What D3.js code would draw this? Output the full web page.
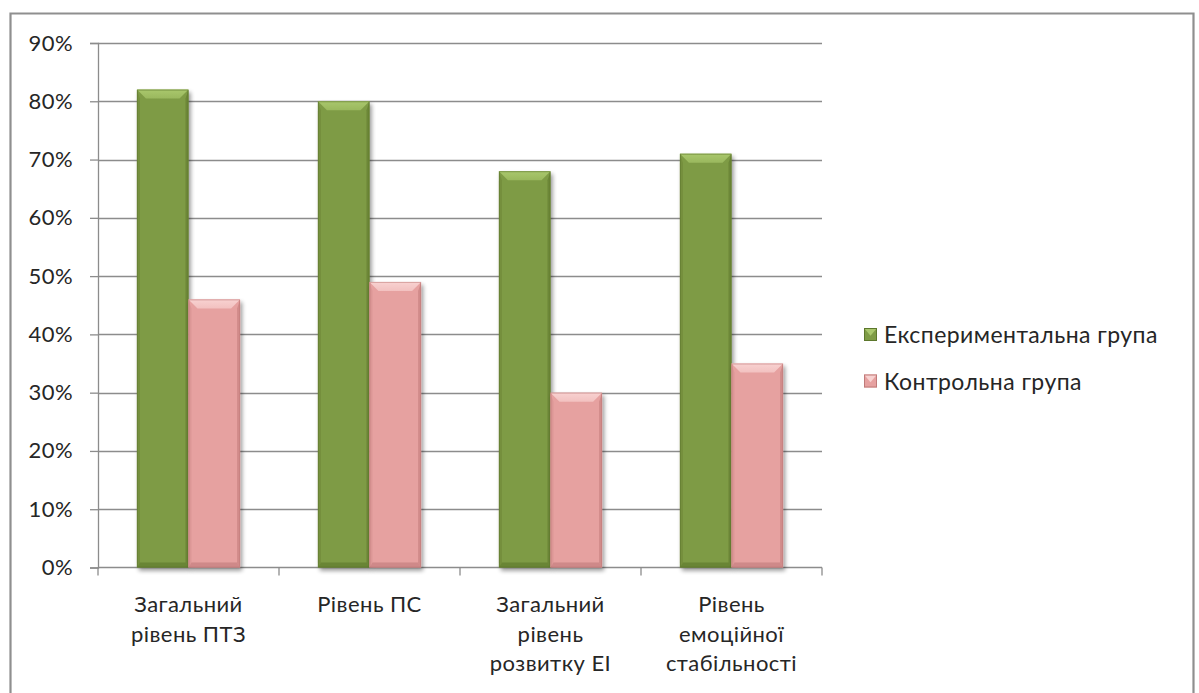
<!DOCTYPE html>
<html>
<head>
<meta charset="utf-8">
<script src="https://cdn.jsdelivr.net/npm/d3@7"></script>
<style>
  html, body { margin: 0; padding: 0; background: #fff; }
  svg { display: block; font-family: Lato, "Open Sans", sans-serif; }
  text { letter-spacing: 0.45px; }
</style>
</head>
<body>
<svg id="chart" width="1199" height="693"></svg>
<script>
// Categories (multi-line labels) and series values, in percent
const categories = [
  ["Загальний", "рівень ПТЗ"],
  ["Рівень ПС"],
  ["Загальний", "рівень", "розвитку ЕІ"],
  ["Рівень", "емоційної", "стабільності"]
];
const seriesNames = ["Експериментальна група", "Контрольна група"];
const experimental = [82, 80, 68, 71];
const control = [46, 49, 30, 35];
const yTicks = [0, 10, 20, 30, 40, 50, 60, 70, 80, 90];

const palette = [
  { base: "#7e9b45", light: "#a9c76c", dark: "#5c772c", edge: "#758f3e" },
  { base: "#e6a1a0", light: "#f8d2d1", dark: "#bf7a79", edge: "#dc9796" }
];
const textColor = "#262626";
const fontSize = 22;

const svg = d3.select("#chart");

// outer frame
svg.append("path")
  .attr("d", "M10.5,700 V13.5 H1193.5 V700")
  .attr("fill", "none")
  .attr("stroke", "#8f8f8f")
  .attr("stroke-width", 2.2);

const plot = { left: 98, right: 822, top: 43, bottom: 567.5 };

const y = d3.scaleLinear().domain([0, 90]).range([plot.bottom, plot.top]);
const x0 = d3.scaleBand().domain(d3.range(categories.length))
  .range([plot.left, plot.right]).paddingInner(0).paddingOuter(0);
const inner = x0.bandwidth();
const groupPad = 0.215;
const x1 = d3.scaleBand().domain([0, 1])
  .range([inner * groupPad, inner * (1 - groupPad)]).padding(0);

// drop shadow and shading gradients for bars
const defs = svg.append("defs");
const f = defs.append("filter").attr("id", "shadow")
  .attr("x", "-20%").attr("y", "-10%").attr("width", "150%").attr("height", "130%");
f.append("feGaussianBlur").attr("in", "SourceAlpha").attr("stdDeviation", 2.2).attr("result", "b");
f.append("feOffset").attr("in", "b").attr("dx", 2).attr("dy", 3).attr("result", "o");
f.append("feComponentTransfer").attr("in", "o").attr("result", "s")
  .append("feFuncA").attr("type", "linear").attr("slope", 0.4);
const fm = f.append("feMerge");
fm.append("feMergeNode").attr("in", "s");
fm.append("feMergeNode").attr("in", "SourceGraphic");

palette.forEach((c, k) => {
  const g = defs.append("linearGradient").attr("id", "top" + k)
    .attr("x1", 0).attr("y1", 0).attr("x2", 0).attr("y2", 1);
  g.append("stop").attr("offset", 0).attr("stop-color", c.light);
  g.append("stop").attr("offset", 1).attr("stop-color", d3.interpolateRgb(c.light, c.base)(0.35));
});

// gridlines and y ticks
const yAxis = d3.axisLeft(y).tickValues(yTicks).tickSize(8)
  .tickFormat(d => d + "%").tickPadding(17);
const yg = svg.append("g").attr("transform", `translate(${plot.left},0)`).call(yAxis);
yg.select(".domain").attr("stroke", "#8c8c8c").attr("stroke-width", 1.3);
yg.selectAll(".tick line").attr("stroke", "#8c8c8c").attr("stroke-width", 1.3);
yg.selectAll(".tick text").attr("fill", textColor).attr("font-size", fontSize)
  .attr("font-family", "Lato, sans-serif");

svg.append("g").selectAll("line").data(yTicks.filter(d => d > 0)).join("line")
  .attr("x1", plot.left).attr("x2", plot.right)
  .attr("y1", d => Math.round(y(d)) + 0.5).attr("y2", d => Math.round(y(d)) + 0.5)
  .attr("stroke", "#8c8c8c").attr("stroke-width", 1.3);

// x axis with ticks at category boundaries
const xBounds = d3.range(categories.length + 1).map(i => plot.left + i * inner);
svg.append("line").attr("x1", plot.left).attr("x2", plot.right)
  .attr("y1", plot.bottom).attr("y2", plot.bottom)
  .attr("stroke", "#8c8c8c").attr("stroke-width", 1.3);
svg.append("g").selectAll("line").data(xBounds).join("line")
  .attr("x1", d => d).attr("x2", d => d)
  .attr("y1", plot.bottom).attr("y2", plot.bottom + 8)
  .attr("stroke", "#8c8c8c").attr("stroke-width", 1.3);

// bevelled bars
function drawBar(g, bx, by, bw, bh, c, k) {
  const t = Math.min(9, bh / 2), s = 9, b = 5;
  const bar = g.append("g").attr("filter", "url(#shadow)");
  bar.append("rect").attr("x", bx).attr("y", by).attr("width", bw).attr("height", bh)
    .attr("fill", c.base);
  // side bevels
  bar.append("path").attr("d",
    `M${bx},${by} L${bx + 3},${by + t} V${by + bh - b} L${bx},${by + bh} Z`)
    .attr("fill", c.edge);
  bar.append("path").attr("d",
    `M${bx + bw},${by} L${bx + bw - 3},${by + t} V${by + bh - b} L${bx + bw},${by + bh} Z`)
    .attr("fill", c.dark).attr("opacity", 0.55);
  // top bevel
  bar.append("path").attr("d",
    `M${bx},${by} H${bx + bw} L${bx + bw - s},${by + t} H${bx + s} Z`)
    .attr("fill", `url(#top${k})`);
  // bottom bevel
  bar.append("path").attr("d",
    `M${bx},${by + bh} L${bx + 3},${by + bh - b} H${bx + bw - 3} L${bx + bw},${by + bh} Z`)
    .attr("fill", c.dark).attr("opacity", 0.6);
  bar.append("rect").attr("x", bx + 0.5).attr("y", by + 0.5).attr("width", bw - 1).attr("height", bh - 1)
    .attr("fill", "none").attr("stroke", c.dark).attr("stroke-opacity", 0.55).attr("stroke-width", 1);
}

const series = [experimental, control];
const barsG = svg.append("g");
categories.forEach((cat, i) => {
  series.forEach((vals, k) => {
    const bx = x0(i) + x1(k);
    const by = y(vals[i]);
    drawBar(barsG, bx, by, x1.bandwidth(), plot.bottom - by, palette[k], k);
  });
});

// category labels
const labels = svg.append("g").attr("font-size", fontSize).attr("fill", textColor)
  .attr("text-anchor", "middle");
categories.forEach((lines, i) => {
  const cx = x0(i) + inner / 2;
  lines.forEach((ln, j) => {
    labels.append("text").attr("x", cx).attr("y", 612 + j * 29.5).text(ln);
  });
});

// legend
const legend = svg.append("g");
seriesNames.forEach((name, k) => {
  const ly = 335 + k * 46.5;
  const c = palette[k];
  const sx = 864, sy = ly - 7, sz = 13;
  legend.append("rect").attr("x", sx).attr("y", sy).attr("width", sz).attr("height", sz).attr("fill", c.base);
  legend.append("path").attr("d", `M${sx},${sy} H${sx + sz} L${sx + sz / 2},${sy + sz * 0.6} Z`)
    .attr("fill", c.light);
  legend.append("rect").attr("x", sx + 0.5).attr("y", sy + 0.5).attr("width", sz - 1).attr("height", sz - 1)
    .attr("fill", "none").attr("stroke", c.dark).attr("stroke-width", 1);
  legend.append("text").attr("x", 884).attr("y", ly + 8).attr("font-size", fontSize + 1)
    .attr("fill", textColor).attr("letter-spacing", 0.8).text(name);
});
</script>
</body>
</html>
